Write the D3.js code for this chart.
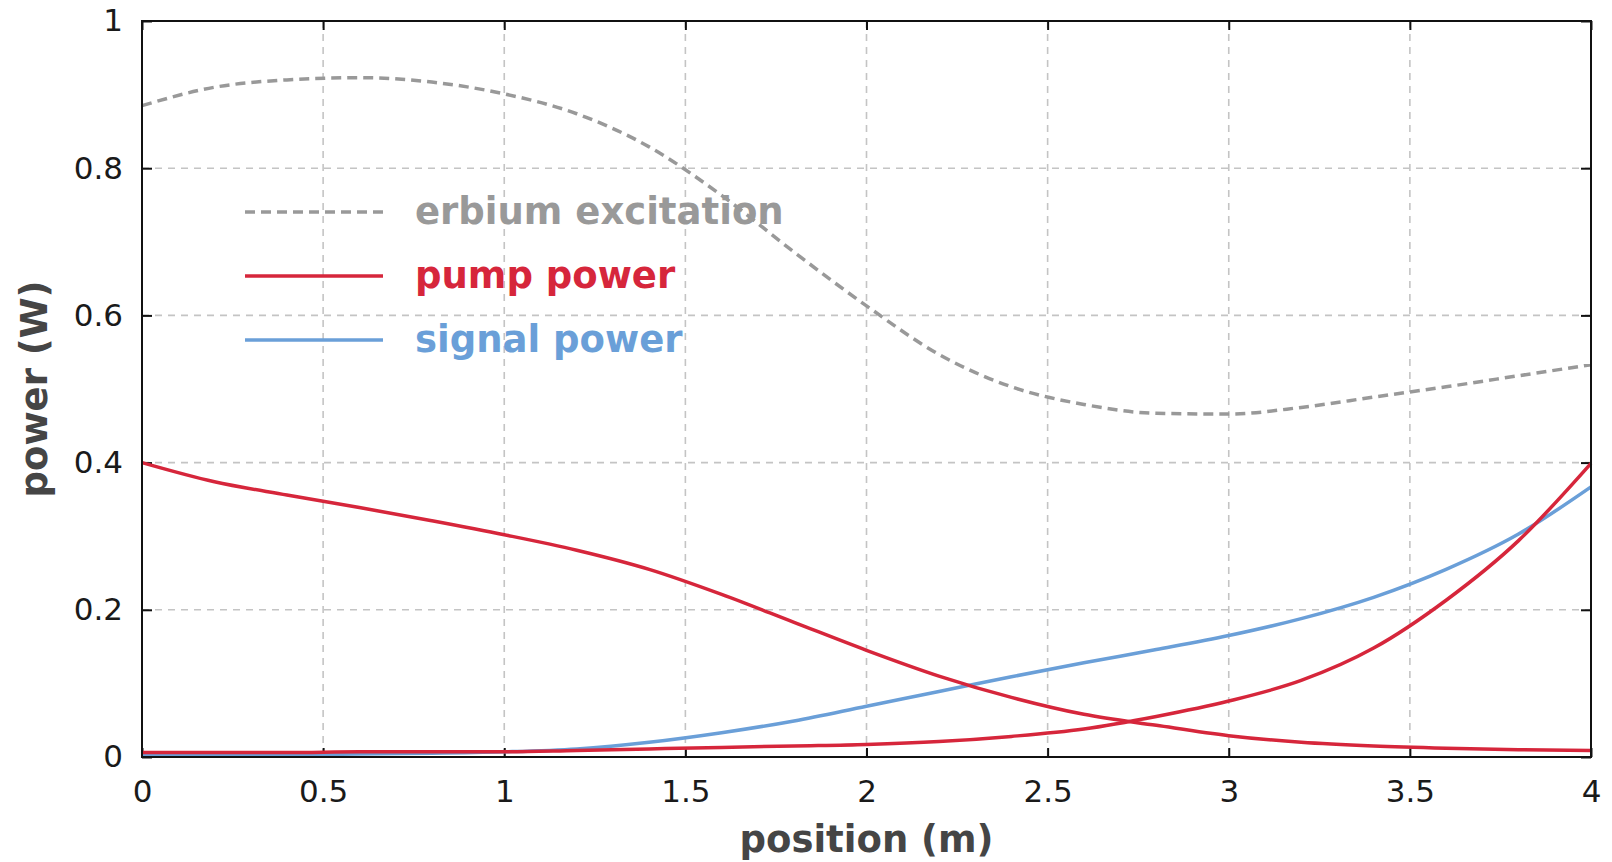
<!DOCTYPE html>
<html>
<head>
<meta charset="utf-8">
<script src="https://cdn.jsdelivr.net/npm/d3@7"></script>
<style>
    body { margin: 0; background: #fff; }
    .tick text { font-family: "DejaVu Sans", sans-serif; font-size: 31px; fill: #1a1a1a; }
    .axis-label { font-family: "DejaVu Sans", sans-serif; font-weight: bold; font-size: 37px; fill: #454545; }
    .legend-text { font-family: "DejaVu Sans", sans-serif; font-weight: bold; font-size: 37px; }
</style>
</head>
<body>
<div class="chart"></div>
<script>
// positions along the fibre (m)
let positions = [0, 0.2, 0.4, 0.6, 0.8, 1.0, 1.2, 1.4, 1.6, 1.8, 2.0, 2.2, 2.4, 2.6, 2.8, 3.0, 3.2, 3.4, 3.6, 3.8, 4.0];

let erbium_excitation = [0.885, 0.910, 0.920, 0.923, 0.917, 0.901, 0.874, 0.829, 0.763, 0.686, 0.613, 0.547, 0.503, 0.479, 0.467, 0.466, 0.475, 0.489, 0.503, 0.518, 0.533];
let pump_forward = [0.400, 0.374, 0.356, 0.339, 0.321, 0.302, 0.281, 0.255, 0.221, 0.183, 0.145, 0.110, 0.081, 0.058, 0.043, 0.029, 0.020, 0.015, 0.012, 0.010, 0.009];
let pump_backward = [0.006, 0.006, 0.006, 0.007, 0.007, 0.007, 0.009, 0.011, 0.013, 0.015, 0.017, 0.021, 0.028, 0.038, 0.055, 0.076, 0.104, 0.148, 0.213, 0.294, 0.399];
let signal_power = [0.002, 0.002, 0.003, 0.004, 0.005, 0.007, 0.011, 0.020, 0.033, 0.049, 0.069, 0.089, 0.109, 0.128, 0.146, 0.165, 0.188, 0.217, 0.255, 0.303, 0.367];

let x_ticks = [0, 0.5, 1, 1.5, 2, 2.5, 3, 3.5, 4];
let y_ticks = [0, 0.2, 0.4, 0.6, 0.8, 1];

let legend_items = [
    {label: "erbium excitation", color: "#999999", dash: "10,6"},
    {label: "pump power", color: "#d6263b", dash: null},
    {label: "signal power", color: "#6a9fd8", dash: null}
];

let margin = {top: 21, right: 21, bottom: 105, left: 142},
    width = 1612 - margin.left - margin.right,
    height = 862 - margin.top - margin.bottom;

let svg = d3.select(".chart")
    .append("svg")
    .attr("width", 1612)
    .attr("height", 862)
    .append("g")
    .attr("transform", "translate(" + margin.left + "," + margin.top + ")");

let x = d3.scaleLinear().domain([0, 4]).range([0, width]);
let y = d3.scaleLinear().domain([0, 1]).range([height, 0]);

// dashed grid
svg.append("g")
    .selectAll("line")
    .data(x_ticks.slice(1, -1))
    .enter()
    .append("line")
    .attr("x1", d => x(d)).attr("x2", d => x(d))
    .attr("y1", 0).attr("y2", height)
    .attr("stroke", "#c4c4c4")
    .attr("stroke-width", 1.6)
    .attr("stroke-dasharray", "7,6");

svg.append("g")
    .selectAll("line")
    .data(y_ticks.slice(1, -1))
    .enter()
    .append("line")
    .attr("x1", 0).attr("x2", width)
    .attr("y1", d => y(d)).attr("y2", d => y(d))
    .attr("stroke", "#c4c4c4")
    .attr("stroke-width", 1.6)
    .attr("stroke-dasharray", "7,6");

// axes, ticks pointing inwards
let fmt = d3.format("~g");
svg.append("g")
    .attr("transform", "translate(0," + height + ")")
    .call(d3.axisBottom(x).tickValues(x_ticks).tickFormat(fmt).tickSize(-9).tickPadding(23));
svg.append("g")
    .call(d3.axisLeft(y).tickValues(y_ticks).tickFormat(fmt).tickSize(-10).tickPadding(19));
svg.append("g")
    .call(d3.axisTop(x).tickValues(x_ticks).tickFormat("").tickSize(-9));
svg.append("g")
    .attr("transform", "translate(" + width + ",0)")
    .call(d3.axisRight(y).tickValues(y_ticks).tickFormat("").tickSize(-10));

svg.selectAll(".domain").remove();
svg.selectAll(".tick line").attr("stroke", "#111").attr("stroke-width", 2);

// legend
let legend = svg.append("g");
legend_items.forEach((item, i) => {
    let ly = 191 + i * 64;
    legend.append("line")
        .attr("x1", 103).attr("x2", 241)
        .attr("y1", ly).attr("y2", ly)
        .attr("stroke", item.color)
        .attr("stroke-width", 3.5)
        .attr("stroke-dasharray", item.dash);
    legend.append("text")
        .attr("class", "legend-text")
        .attr("x", 273)
        .attr("y", ly + 12)
        .attr("fill", item.color)
        .text(item.label);
});

// curves
let line = d3.line()
    .x((d, i) => x(positions[i]))
    .y(d => y(d))
    .curve(d3.curveMonotoneX);

svg.append("path")
    .datum(erbium_excitation)
    .attr("d", line)
    .attr("fill", "none")
    .attr("stroke", "#999999")
    .attr("stroke-width", 3.5)
    .attr("stroke-dasharray", "10,6");

svg.append("path")
    .datum(signal_power)
    .attr("d", line)
    .attr("fill", "none")
    .attr("stroke", "#6a9fd8")
    .attr("stroke-width", 3.5);

[pump_forward, pump_backward].forEach(series => {
    svg.append("path")
        .datum(series)
        .attr("d", line)
        .attr("fill", "none")
        .attr("stroke", "#d6263b")
        .attr("stroke-width", 3.5);
});

// frame
svg.append("rect")
    .attr("width", width)
    .attr("height", height)
    .attr("fill", "none")
    .attr("stroke", "#111")
    .attr("stroke-width", 2);

// axis titles
svg.append("text")
    .attr("class", "axis-label")
    .attr("x", width / 2)
    .attr("y", height + 95)
    .style("text-anchor", "middle")
    .text("position (m)");

svg.append("text")
    .attr("class", "axis-label")
    .attr("transform", "rotate(-90)")
    .attr("x", -height / 2)
    .attr("y", -95)
    .style("text-anchor", "middle")
    .text("power (W)");
</script>
</body>
</html>
